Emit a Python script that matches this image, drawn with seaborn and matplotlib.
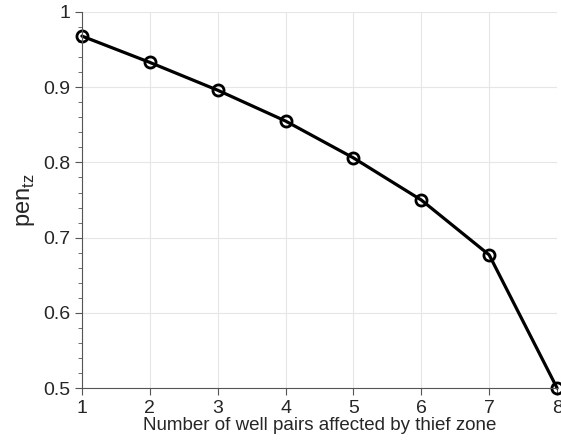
import matplotlib
matplotlib.use("Agg")
import matplotlib.pyplot as plt
import seaborn as sns
import pandas as pd
from matplotlib.ticker import MultipleLocator

wells = [1, 2, 3, 4, 5, 6, 7, 8]
pen_tz = [0.968, 0.933, 0.896, 0.855, 0.806, 0.750, 0.677, 0.500]

sns.set_style("ticks")
plt.rcParams['font.family'] = ['Liberation Sans', 'DejaVu Sans']

df = pd.DataFrame({"wells": wells, "pen": pen_tz})

fig = plt.figure(figsize=(5.61, 4.44), dpi=100)
ax = fig.add_axes([0.146, 0.126, 0.847, 0.847])
sns.lineplot(data=df, x="wells", y="pen", ax=ax, color="black", linewidth=2.3,
             marker="o", markersize=8, markerfacecolor="none",
             markeredgecolor="black", markeredgewidth=2, clip_on=False)

ax.set_xlim(1, 8)
ax.set_ylim(0.5, 1.0)
ax.set_xticks(wells)
ax.set_yticks([0.5, 0.6, 0.7, 0.8, 0.9, 1.0])
ax.set_yticklabels(["0.5", "0.6", "0.7", "0.8", "0.9", "1"])
ax.yaxis.set_minor_locator(MultipleLocator(0.02))
ax.grid(True, which="major", color="#e6e6e6", linewidth=0.8)
ax.set_axisbelow(True)
for s in ["top", "right"]:
    ax.spines[s].set_visible(False)
for s in ["left", "bottom"]:
    ax.spines[s].set_color("#555555")
ax.tick_params(axis="both", which="major", labelsize=14, length=5, color="#555555", direction="out")
ax.tick_params(axis="y", which="minor", length=3, color="#555555", direction="out")
ax.set_xlabel("Number of well pairs affected by thief zone", fontsize=13.5, labelpad=0)
ax.set_ylabel(r"pen$_{\mathregular{tz}}$", fontsize=17, labelpad=4)

fig.savefig("out.png", dpi=100)
